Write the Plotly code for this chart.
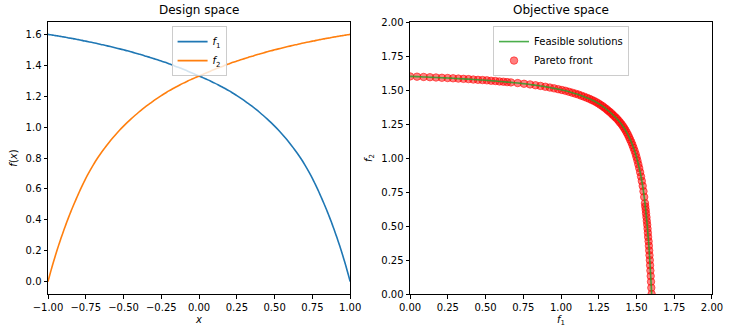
import plotly.graph_objects as go

# Sample points in design space (x) and the two objectives
x_vals = [-1.0, -0.9875, -0.975, -0.9625, -0.95, -0.9375, -0.925, -0.9125, -0.9, -0.8875,
          -0.875, -0.8625, -0.85, -0.8375, -0.825, -0.8125, -0.8, -0.7875, -0.775, -0.7625,
          -0.75, -0.725, -0.7, -0.675, -0.65, -0.625, -0.6, -0.575, -0.55, -0.525,
          -0.5, -0.475, -0.45, -0.425, -0.4, -0.375, -0.35, -0.325, -0.3, -0.275,
          -0.25, -0.225, -0.2, -0.175, -0.15, -0.125, -0.1, -0.075, -0.05, -0.025,
          0.0, 0.025, 0.05, 0.075, 0.1, 0.125, 0.15, 0.175, 0.2, 0.225,
          0.25, 0.275, 0.3, 0.325, 0.35, 0.375, 0.4, 0.425, 0.45, 0.475,
          0.5, 0.525, 0.55, 0.575, 0.6, 0.625, 0.65, 0.675, 0.7, 0.725,
          0.75, 0.7625, 0.775, 0.7875, 0.8, 0.8125, 0.825, 0.8375, 0.85, 0.8625,
          0.875, 0.8875, 0.9, 0.9125, 0.925, 0.9375, 0.95, 0.9625, 0.975, 0.9875, 1.0]

f1_vals = [1.600, 1.598, 1.596, 1.594, 1.592, 1.590, 1.588, 1.586, 1.584, 1.582,
           1.580, 1.577, 1.575, 1.573, 1.571, 1.568, 1.566, 1.563, 1.561, 1.558,
           1.556, 1.551, 1.546, 1.541, 1.535, 1.530, 1.524, 1.518, 1.512, 1.506,
           1.500, 1.494, 1.487, 1.480, 1.473, 1.466, 1.458, 1.451, 1.443, 1.435,
           1.427, 1.419, 1.410, 1.401, 1.391, 1.382, 1.372, 1.362, 1.351, 1.341,
           1.331, 1.320, 1.309, 1.298, 1.286, 1.274, 1.261, 1.248, 1.234, 1.219,
           1.204, 1.188, 1.171, 1.153, 1.135, 1.116, 1.096, 1.075, 1.053, 1.030,
           1.006, 0.981, 0.954, 0.926, 0.896, 0.864, 0.831, 0.795, 0.755, 0.713,
           0.668, 0.643, 0.618, 0.592, 0.565, 0.537, 0.509, 0.480, 0.450, 0.419,
           0.387, 0.354, 0.320, 0.285, 0.249, 0.211, 0.172, 0.132, 0.090, 0.046, 0.000]

f2_vals = [0.000, 0.046, 0.090, 0.132, 0.172, 0.211, 0.249, 0.285, 0.320, 0.354,
           0.387, 0.419, 0.450, 0.480, 0.509, 0.537, 0.565, 0.592, 0.618, 0.643,
           0.668, 0.713, 0.755, 0.795, 0.831, 0.864, 0.896, 0.926, 0.954, 0.981,
           1.006, 1.030, 1.053, 1.075, 1.096, 1.116, 1.135, 1.153, 1.171, 1.188,
           1.204, 1.219, 1.234, 1.248, 1.261, 1.274, 1.286, 1.298, 1.309, 1.320,
           1.331, 1.341, 1.351, 1.362, 1.372, 1.382, 1.391, 1.401, 1.410, 1.419,
           1.427, 1.435, 1.443, 1.451, 1.458, 1.466, 1.473, 1.480, 1.487, 1.494,
           1.500, 1.506, 1.512, 1.518, 1.524, 1.530, 1.535, 1.541, 1.546, 1.551,
           1.556, 1.558, 1.561, 1.563, 1.566, 1.568, 1.571, 1.573, 1.575, 1.577,
           1.580, 1.582, 1.584, 1.586, 1.588, 1.590, 1.592, 1.594, 1.596, 1.598, 1.600]

x_ticks = [-1.0, -0.75, -0.5, -0.25, 0.0, 0.25, 0.5, 0.75, 1.0]
fx_ticks = [0.0, 0.2, 0.4, 0.6, 0.8, 1.0, 1.2, 1.4, 1.6]
obj_ticks = [0.0, 0.25, 0.5, 0.75, 1.0, 1.25, 1.5, 1.75, 2.0]

FONT = "DejaVu Sans"
W, H = 735, 336
ML, MR, MT, MB = 47.5, 17.7, 22.3, 42.0
PW = W - ML - MR
left_dom = [0.0, (352.3 - ML) / PW]
right_dom = [(412.7 - ML) / PW, 1.0]

fig = go.Figure()

fig.add_trace(go.Scatter(x=x_vals, y=f1_vals, mode="lines", name="<i>f</i><sub>1</sub>",
                         line=dict(color="#1f77b4", width=1.6, shape="spline", smoothing=0.8),
                         xaxis="x", yaxis="y", legend="legend"))
fig.add_trace(go.Scatter(x=x_vals, y=f2_vals, mode="lines", name="<i>f</i><sub>2</sub>",
                         line=dict(color="#ff7f0e", width=1.6, shape="spline", smoothing=0.8),
                         xaxis="x", yaxis="y", legend="legend"))

fig.add_trace(go.Scatter(x=f1_vals, y=f2_vals, mode="markers", name="Pareto front",
                         marker=dict(color="rgba(255,0,0,0.5)", size=7.5,
                                     line=dict(width=1, color="rgba(255,0,0,0.55)")),
                         xaxis="x2", yaxis="y2", legend="legend2", legendrank=2))
fig.add_trace(go.Scatter(x=f1_vals, y=f2_vals, mode="lines", name="Feasible solutions",
                         line=dict(color="#2ca02c", width=1.6, shape="spline", smoothing=0.6),
                         opacity=0.85, xaxis="x2", yaxis="y2", legend="legend2", legendrank=1))

axis_common = dict(showline=True, mirror=True, linecolor="black", linewidth=1,
                   ticks="outside", ticklen=3.5, tickwidth=0.8, tickcolor="black",
                   showgrid=False, zeroline=False,
                   tickfont=dict(family=FONT, size=10, color="black"))

fig.update_layout(
    width=W, height=H,
    margin=dict(l=ML, r=MR, t=MT, b=MB, pad=0),
    paper_bgcolor="white", plot_bgcolor="white",
    font=dict(family=FONT, size=10, color="black"),
    xaxis=dict(domain=left_dom, range=[-1, 1], tickvals=x_ticks, tickformat=".2f",
               title=dict(text="<i>x</i>", font=dict(family=FONT, size=10), standoff=4),
               anchor="y", **axis_common),
    yaxis=dict(domain=[0, 1], range=[-0.08, 1.68], tickvals=fx_ticks, tickformat=".1f",
               title=dict(text="<i>f</i>(<i>x</i>)", font=dict(family=FONT, size=10), standoff=6),
               anchor="x", **axis_common),
    xaxis2=dict(domain=right_dom, range=[0, 2], tickvals=obj_ticks, tickformat=".2f",
                title=dict(text="<i>f</i><sub>1</sub>", font=dict(family=FONT, size=10), standoff=4),
                anchor="y2", **axis_common),
    yaxis2=dict(domain=[0, 1], range=[0, 2], tickvals=obj_ticks, tickformat=".2f",
                title=dict(text="<i>f</i><sub>2</sub>", font=dict(family=FONT, size=10), standoff=6),
                anchor="x2", **axis_common),
    legend=dict(x=(left_dom[0] + left_dom[1]) / 2, xanchor="center", y=0.985, yanchor="top",
                bgcolor="rgba(255,255,255,0.8)", bordercolor="#cccccc", borderwidth=1,
                font=dict(family=FONT, size=10), itemwidth=30, tracegroupgap=2),
    legend2=dict(x=(right_dom[0] + right_dom[1]) / 2, xanchor="center", y=0.985, yanchor="top",
                 bgcolor="rgba(255,255,255,0.8)", bordercolor="#cccccc", borderwidth=1,
                 font=dict(family=FONT, size=10), itemwidth=30, traceorder="normal"),
    annotations=[
        dict(text="Design space", x=(left_dom[0] + left_dom[1]) / 2, y=1.0, xref="paper", yref="paper",
             xanchor="center", yanchor="bottom", yshift=3, showarrow=False,
             font=dict(family=FONT, size=12, color="black")),
        dict(text="Objective space", x=(right_dom[0] + right_dom[1]) / 2, y=1.0, xref="paper", yref="paper",
             xanchor="center", yanchor="bottom", yshift=3, showarrow=False,
             font=dict(family=FONT, size=12, color="black")),
    ],
)

fig.write_html("out.html")
